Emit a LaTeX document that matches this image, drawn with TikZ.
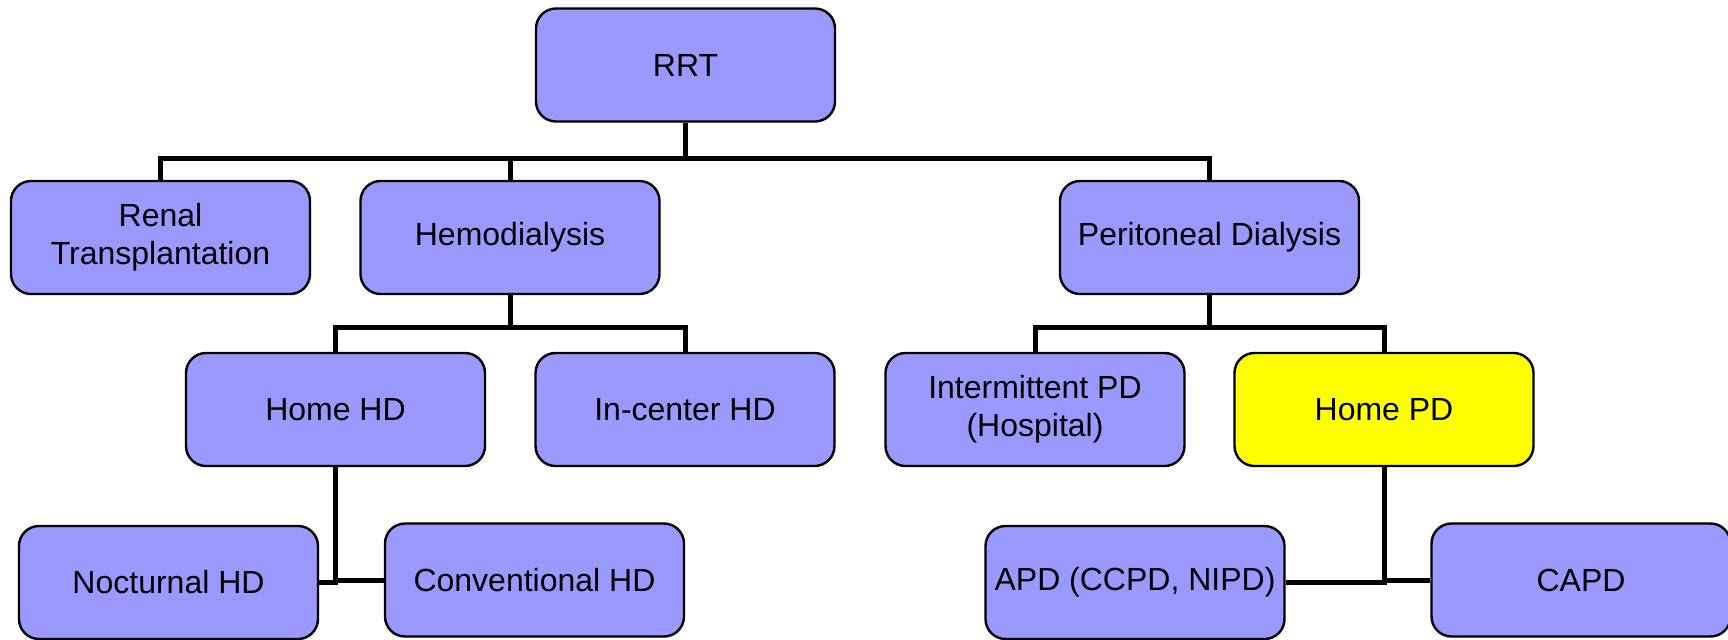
\documentclass[tikz,border=0pt]{standalone}
\usepackage{fontspec}
\setmainfont{Liberation Sans}
\definecolor{boxblue}{HTML}{9999FF}
\definecolor{boxyellow}{HTML}{FFFF00}
\begin{document}
\begin{tikzpicture}[x=0.5pt,y=-0.5pt,
  box/.style={draw,line width=1.2pt,rounded corners=10pt,fill=boxblue,minimum width=149.5pt,minimum height=56.5pt,inner sep=2pt,align=center,font=\fontsize{16}{19}\selectfont},
  homebox/.style={box,fill=boxyellow},
  bar/.style={line width=2.5pt}]
\useasboundingbox (0,0) rectangle (1728,639);
\node[box] (rrt) at (685.5,65) {RRT};
\node[box] (renal) at (160.5,237.5) {Renal\\Transplantation};
\node[box] (hemo) at (510,237.5) {Hemodialysis};
\node[box] (perit) at (1209.5,237.5) {Peritoneal Dialysis};
\node[box] (homehd) at (335.5,409.5) {Home HD};
\node[box] (incenter) at (685,409.5) {In-center HD};
\node[box] (intpd) at (1035,409.5) {Intermittent PD\\(Hospital)};
\node[homebox] (homepd) at (1384,409.5) {Home PD};
\node[box] (noct) at (168.5,582.5) {Nocturnal HD};
\node[box] (conv) at (534.5,580) {Conventional HD};
\node[box] (apd) at (1135,582.5) {APD (CCPD, NIPD)};
\node[box] (capd) at (1581,580) {CAPD};
\coordinate (j1) at (685.5,158);
\coordinate (j2) at (510,327);
\coordinate (j3) at (1209.5,327);
\draw[bar] (rrt.south) -- (j1);
\draw[bar] (renal.north) -- (renal.north |- j1) -| (perit.north);
\draw[bar] (hemo.north) -- (hemo.north |- j1);
\draw[bar] (hemo.south) -- (j2);
\draw[bar] (homehd.north) |- (j2) -| (incenter.north);
\draw[bar] (perit.south) -- (j3);
\draw[bar] (intpd.north) |- (j3) -| (homepd.north);
\draw[bar] (homehd.south) |- (noct.east);
\draw[bar] (homehd.south |- conv.west) -- (conv.west);
\draw[bar] (homepd.south) |- (apd.east);
\draw[bar] (homepd.south |- capd.west) -- (capd.west);
\end{tikzpicture}
\end{document}
